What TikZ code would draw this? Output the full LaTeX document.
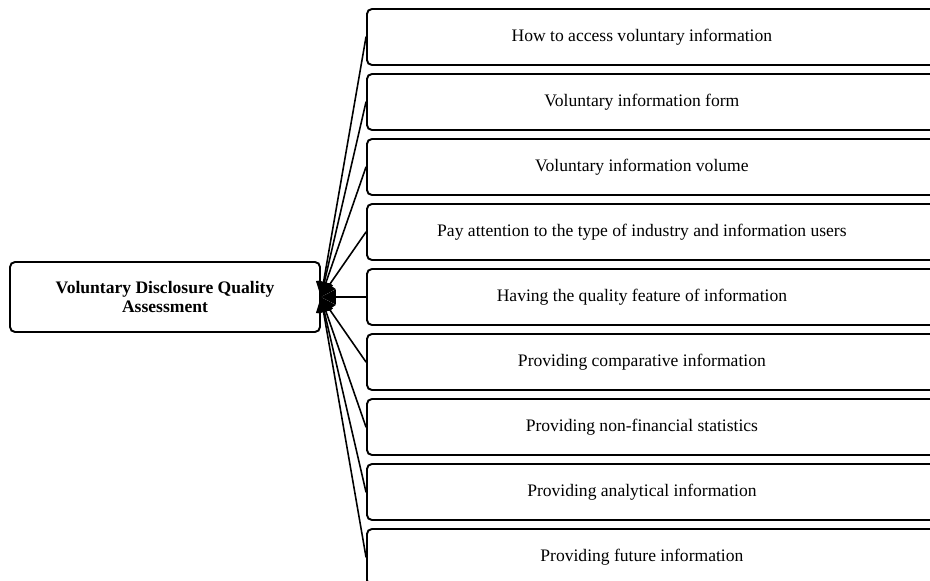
\documentclass[tikz,border=0pt]{standalone}
\usepackage{fontspec}
\setmainfont{Liberation Serif}
\usetikzlibrary{arrows.meta}
\tikzset{
  crit/.style={draw, line width=1.1pt, rounded corners=1mm, minimum width=11.4cm,
    minimum height=1.12cm, anchor=west, font=\fontsize{10}{12}\selectfont},
  qbox/.style={draw, line width=1.1pt, rounded corners=1mm, minimum width=6.2cm,
    minimum height=1.4cm, align=center, font=\bfseries\fontsize{10}{11}\selectfont},
}
\begin{document}
\begin{tikzpicture}[x=0.02cm,y=-0.02cm,line cap=round]
  \useasboundingbox (0,0) rectangle (930,581);
  \node[qbox] (qa) at (165,297) {Voluntary Disclosure Quality\\Assessment};
  % criteria on the right
  \foreach \t [count=\i] in {How to access voluntary information,
      Voluntary information form,
      Voluntary information volume,
      Pay attention to the type of industry and information users,
      Having the quality feature of information,
      Providing comparative information,
      Providing non-financial statistics,
      Providing analytical information,
      Providing future information}
  {
    \node[crit] (c\i) at (366,{37+65*(\i-1)}) {\hspace*{-0.4cm}\t};
    \draw[line width=0.9pt, -{Triangle[length=3mm,width=3mm]}] (c\i.west) -- (qa.east);
  }
\end{tikzpicture}
\end{document}
